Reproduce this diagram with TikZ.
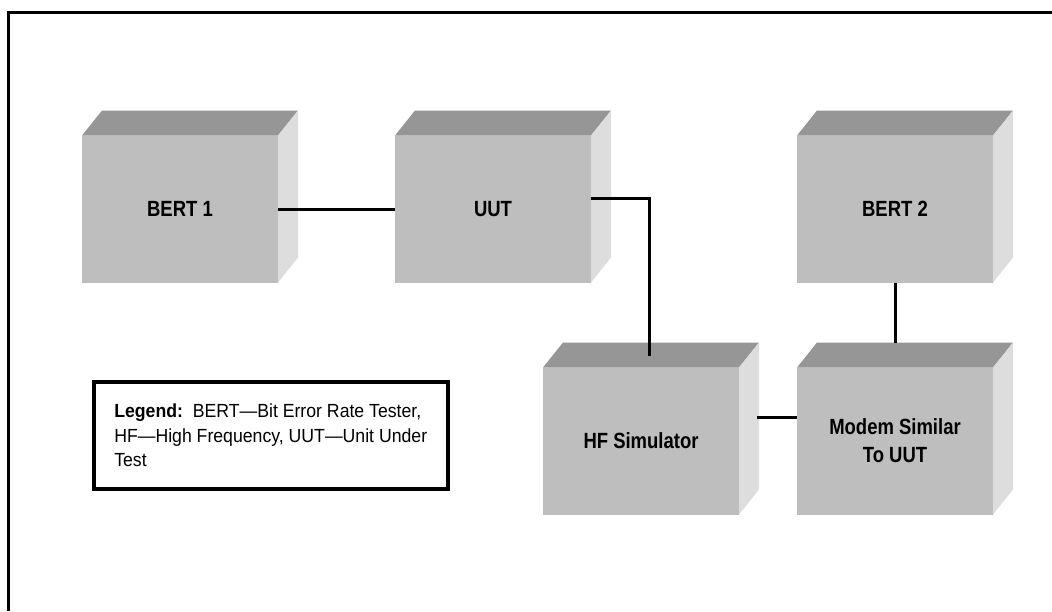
\documentclass[tikz,border=0pt]{standalone}
\usepackage{fontspec}
\setmainfont{Liberation Sans}
\newfontfamily\boxfont[FakeStretch=0.84]{Liberation Sans}
\newfontfamily\legfont[FakeStretch=0.93]{Liberation Sans}
\usetikzlibrary{calc}

\definecolor{frontgray}{RGB}{190,190,190}
\definecolor{topgray}{RGB}{150,150,150}
\definecolor{sidegray}{RGB}{221,221,221}

\tikzset{
  unitbox/.style={fill=frontgray, minimum width=196, minimum height=147, inner sep=0, outer sep=0,
    font=\boxfont\fontsize{22}{28}\selectfont\bfseries, align=center},
  topface/.style={fill=topgray},
  sideface/.style={fill=sidegray},
  wire/.style={line width=3},
  legendbox/.style={draw, line width=3.5, anchor=north west, minimum width=354, minimum height=107,
    inner xsep=14, inner ysep=0, align=left, text depth=0,
    font=\legfont\fontsize{19}{24.5}\selectfont}
}

\begin{document}
\begin{tikzpicture}[x=1pt,y=1pt,yscale=-1]
\useasboundingbox (0,0) rectangle (1052,611);

%Shape: Frame
\draw [line width=3] (8,611) -- (8,12) -- (1052,12);

% Text Node
\node (bertA) at (180,209) [unitbox] {BERT 1};
% Text Node
\node (uut) at (493,209) [unitbox] {UUT};
% Text Node
\node (bertB) at (895,209) [unitbox] {BERT 2};
% Text Node
\node (hfsim) at (641,441) [unitbox] {HF Simulator};
% Text Node
\node (modem) at (895,441) [unitbox] {Modem Similar\\To UUT};

%Shape: Box faces
\foreach \n in {bertA,uut,bertB,hfsim,modem}{
  \fill [topface] (\n.north west) -- ++(20,-25) -- ++(196,0) -- (\n.north east) -- cycle;
  \fill [sideface] (\n.north east) -- ++(20,-25) -- ++(0,147) -- (\n.south east) -- cycle;
}

% Connectors
\coordinate (uutout) at ($(uut.east)+(0,-11)$);
\coordinate (hftop) at ($(hfsim.north)+(8,-12)$);
\coordinate (modtop) at ($(modem.north)+(0,-25)$);
\coordinate (hfout) at ($(hfsim.east)+(18,-24)$);
\draw [wire] (bertA.east) -- (uut.west);
\draw [wire] (uutout) -| (hftop);
\draw [wire] (bertB.south) -- (modtop);
\draw [wire] (hfout) -- (modem.west |- hfout);

% Text Node
\node (legend) at (92,380) [legendbox] {\textbf{Legend:}\ \ BERT—Bit Error Rate Tester,\\HF—High Frequency, UUT—Unit Under\\Test};

\end{tikzpicture}
\end{document}
